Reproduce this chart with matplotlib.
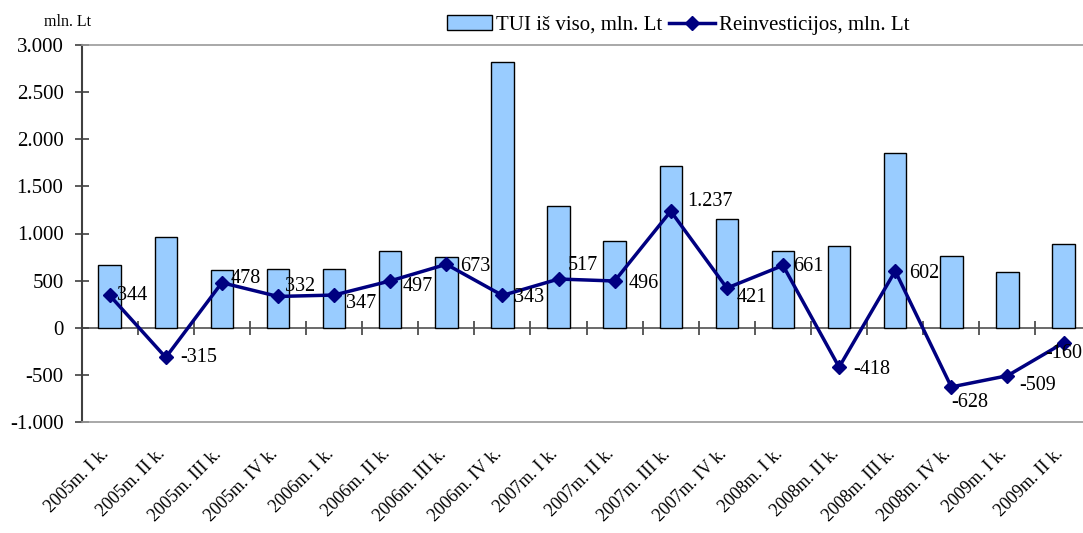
import numpy as np
import matplotlib
matplotlib.use("Agg")
from matplotlib import pyplot as plt
from matplotlib.ticker import FuncFormatter
import matplotlib.transforms as mtransforms

plt.rcParams['font.family'] = ['Liberation Serif', 'DejaVu Serif']

# Data
quarters = ["2005m. I k.", "2005m. II k.", "2005m. III k.", "2005m. IV k.",
            "2006m. I k.", "2006m. II k.", "2006m. III k.", "2006m. IV k.",
            "2007m. I k.", "2007m. II k.", "2007m. III k.", "2007m. IV k.",
            "2008m. I k.", "2008m. II k.", "2008m. III k.", "2008m. IV k.",
            "2009m. I k.", "2009m. II k."]
tui_total = [670, 960, 615, 625, 620, 815, 755, 2815, 1295, 925,
             1720, 1155, 815, 870, 1850, 765, 590, 885]
reinvest = [344, -315, 478, 332, 347, 497, 673, 343, 517, 496,
            1237, 421, 661, -418, 602, -628, -509, -160]

# label nudges (pixels right / up from the marker)
label_dx = [7, 14, 9, 7, 12, 12, 14, 12, 9, 14, 16, 10, 10, 14, 14, 0, 12, -18]
label_dy = [0, 0, 4, 10, -8, -6, -2, -2, 14, -2, 10, -9, -1, -2, -2, -16, -10, -11]


def lt_fmt(v, pos=None):
    return f"{int(round(v)):,}".replace(",", ".")


fig = plt.figure(figsize=(10.83, 5.33), dpi=100)
ax = fig.add_axes([81.6 / 1083, 111 / 533, 1010 / 1083, 377 / 533])

x = np.arange(len(quarters))
bars = ax.bar(x, tui_total, width=0.4, color='#99CCFF', edgecolor='black',
              linewidth=1, label='TUI iš viso, mln. Lt', zorder=2)
line, = ax.plot(x, reinvest, color='#000080', lw=2.5, marker='D', markersize=7,
                label='Reinvesticijos, mln. Lt', zorder=4)

for xi, v, dx, dy in zip(x, reinvest, label_dx, label_dy):
    ax.annotate(lt_fmt(v), (xi, v), xytext=(dx, dy), textcoords='offset pixels',
                ha='left', va='center', fontsize=14.5, zorder=5,
                annotation_clip=False)

ax.set_xlim(-0.5, len(quarters) - 0.5)
ax.set_ylim(-1000, 3000)
ax.set_yticks(np.arange(-1000, 3001, 500))
ax.yaxis.set_major_formatter(FuncFormatter(lt_fmt))
ax.tick_params(axis='y', direction='inout', length=10, width=1.2,
               color='#404040', pad=8, labelsize=15)

ax.set_xticks(x)
ax.set_xticklabels(quarters, rotation=45, ha='right', va='top',
                   rotation_mode='anchor', fontsize=13)
ax.tick_params(axis='x', length=0, pad=17)
shift = mtransforms.ScaledTranslation(-0.09, 0, fig.dpi_scale_trans)
for lab in ax.get_xticklabels():
    lab.set_transform(lab.get_transform() + shift)

for side in ['top', 'bottom']:
    ax.spines[side].set_color('#999999')
    ax.spines[side].set_linewidth(1.2)
ax.spines['right'].set_visible(False)
ax.spines['left'].set_color('#404040')
ax.spines['left'].set_linewidth(1.5)

# category axis drawn at zero
zero_axis = ax.secondary_xaxis(0.25)
zero_axis.set_xticks(np.arange(0.5, len(quarters) - 1, 1))
zero_axis.tick_params(direction='inout', length=10, width=1.2,
                      color='#404040', labelbottom=False)
zero_axis.spines['bottom'].set_color('#505050')
zero_axis.spines['bottom'].set_linewidth(1.2)

fig.legend(handles=[bars, line], loc='center',
           bbox_to_anchor=(678 / 1083, 1 - 25 / 533), ncol=2,
           frameon=False, fontsize=15, handlelength=2.2, handletextpad=0.2,
           columnspacing=0.3, borderaxespad=0)
fig.text(68 / 1083, 1 - 22 / 533, 'mln. Lt', ha='center', va='center', fontsize=11.5)

fig.savefig('out.png', dpi=100)
